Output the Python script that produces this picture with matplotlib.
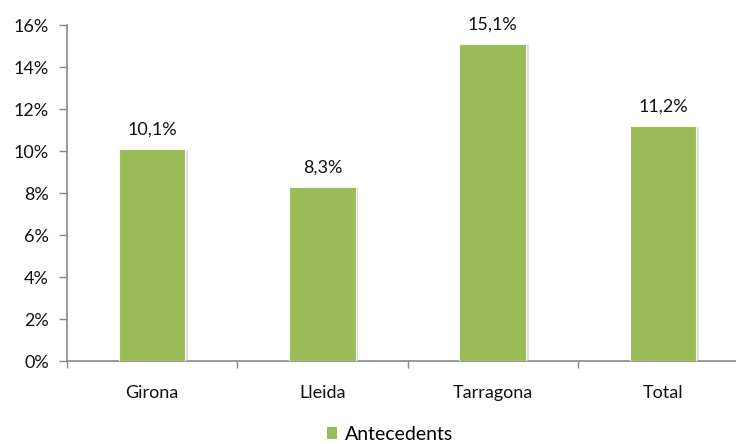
import matplotlib.pyplot as plt
import matplotlib.patheffects as pe
from matplotlib.patches import Patch
from matplotlib.ticker import FixedLocator

plt.rcParams['font.family'] = ['Lato', 'DejaVu Sans']

# data
categories = ['Girona', 'Lleida', 'Tarragona', 'Total']
antecedents = [10.1, 8.3, 15.1, 11.2]
value_labels = ['10,1%', '8,3%', '15,1%', '11,2%']
yticks = [0, 2, 4, 6, 8, 10, 12, 14, 16]

green = '#9BBB59'
axis_grey = '#898989'
txt = '#111111'

fig = plt.figure(figsize=(7.36, 4.44), dpi=100)
# axes runs off the right edge like in the original
ax = fig.add_axes([67/736, 83/444, 681/736, 336/444])

x = range(len(categories))
bars = ax.bar(x, antecedents, width=0.39, color=green, edgecolor='#f4f7ec',
              linewidth=0.8, zorder=3)
for b in bars:
    b.set_path_effects([pe.SimplePatchShadow(offset=(2, -1), shadow_rgbFace='#b8b8b8', alpha=0.45),
                        pe.Normal()])

for xi, v, lab in zip(x, antecedents, value_labels):
    ax.annotate(lab, (xi, v), xytext=(0, 8), textcoords='offset points',
                ha='center', va='bottom', fontsize=13, color=txt)

ax.set_xlim(-0.5, 3.5)
ax.set_ylim(0, 16)
ax.set_yticks(yticks)
ax.set_yticklabels([f'{t}%' for t in yticks], fontsize=13, color=txt)
ax.set_xticks(list(x))
ax.set_xticklabels(categories, fontsize=13, color=txt)
ax.tick_params(axis='x', length=0, pad=17)
ax.xaxis.set_minor_locator(FixedLocator([-0.5, 0.5, 1.5, 2.5, 3.5]))
ax.tick_params(axis='x', which='minor', length=5, color=axis_grey, width=1)
ax.tick_params(axis='y', length=6, color=axis_grey, width=1, pad=7)

for s in ['top', 'right']:
    ax.spines[s].set_visible(False)
for s in ['left', 'bottom']:
    ax.spines[s].set_color(axis_grey)
    ax.spines[s].set_linewidth(1.2)

handle = Patch(facecolor=green, edgecolor='none', label='Antecedents')
fig.legend(handles=[handle], loc='center', bbox_to_anchor=(0.53, 0.022),
           frameon=False, fontsize=14, handlelength=0.55, handleheight=0.55,
           handletextpad=0.4, borderpad=0)

fig.savefig('out.png', dpi=100)
